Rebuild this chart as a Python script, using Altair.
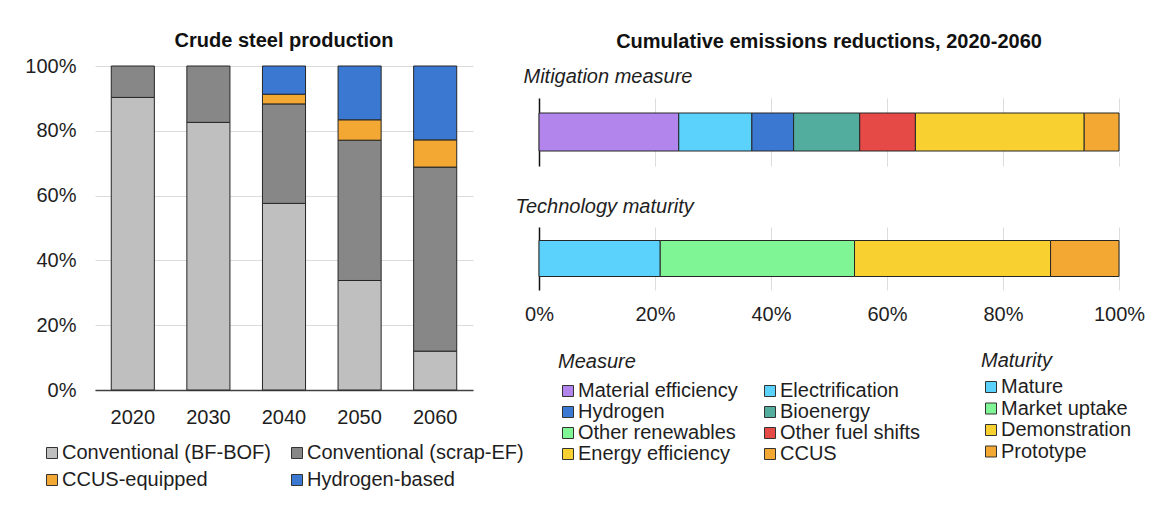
import altair as alt
import pandas as pd

# ---------------- data ----------------
years = ["2020", "2030", "2040", "2050", "2060"]
routes = ["Conventional (BF-BOF)", "Conventional (scrap-EF)", "CCUS-equipped", "Hydrogen-based"]
bf_bof = [90.3, 82.6, 57.6, 33.8, 12.0]
scrap_ef = [9.7, 17.4, 30.7, 43.3, 56.8]
ccus_equipped = [0.0, 0.0, 3.0, 6.3, 8.4]
hydrogen_based = [0.0, 0.0, 8.7, 16.6, 22.8]
route_colors = {"Conventional (BF-BOF)": "#BFBFBF", "Conventional (scrap-EF)": "#878787",
                "CCUS-equipped": "#F2A833", "Hydrogen-based": "#3A78D2"}
# legend fills column by column: this order shows BF-BOF | scrap-EF on row 1
route_legend_order = ["Conventional (BF-BOF)", "CCUS-equipped",
                      "Conventional (scrap-EF)", "Hydrogen-based"]

measures = ["Material efficiency", "Electrification", "Hydrogen", "Bioenergy",
            "Other renewables", "Other fuel shifts", "Energy efficiency", "CCUS"]
measure_values = [24.1, 12.6, 7.2, 11.4, 0.0, 9.6, 29.1, 6.0]
measure_colors = {"Material efficiency": "#B185EC", "Electrification": "#5BD2FC",
                  "Hydrogen": "#3A78D2", "Bioenergy": "#52AD9F",
                  "Other renewables": "#80F596", "Other fuel shifts": "#E64A47",
                  "Energy efficiency": "#F8D130", "CCUS": "#F2A833"}
measure_legend_order = ["Material efficiency", "Hydrogen", "Other renewables", "Energy efficiency",
                        "Electrification", "Bioenergy", "Other fuel shifts", "CCUS"]

maturities = ["Mature", "Market uptake", "Demonstration", "Prototype"]
maturity_values = [20.9, 33.5, 33.8, 11.8]
maturity_colors = ["#5BD2FC", "#80F596", "#F8D130", "#F2A833"]

pct_ticks = [0, 20, 40, 60, 80, 100]

# ---------------- tables ----------------
series = [bf_bof, scrap_ef, ccus_equipped, hydrogen_based]
steel_rows = []
for ri, (route, vals) in enumerate(zip(routes, series)):
    for y, v in zip(years, vals):
        steel_rows.append({"year": y, "route": route, "share": v, "idx": ri})
steel_df = pd.DataFrame(steel_rows)

mit_df = pd.DataFrame({"measure": measures, "value": measure_values,
                       "idx": list(range(len(measures))), "panel": "m"})
mat_df = pd.DataFrame({"maturity": maturities, "value": maturity_values,
                       "idx": list(range(len(maturities))), "panel": "t"})

FONT = "Liberation Sans"
TXT = "#1e1e1e"
GRID = "#DCDCDC"
EDGE = "#262626"

legend_common = dict(symbolType="square", symbolSize=121,
                     symbolStrokeColor="#333333", symbolStrokeWidth=1,
                     labelFontSize=20, labelOffset=0, labelColor=TXT,
                     labelFont=FONT, labelLimit=400,
                     titleFontStyle="italic", titleFontWeight="normal",
                     titleFontSize=20, titleFont=FONT, titleColor=TXT)

# ---------------- left panel ----------------
steel = alt.Chart(steel_df).transform_filter("datum.share > 0").mark_bar(
    stroke=EDGE, strokeWidth=1
).encode(
    x=alt.X("year:N", sort=years,
            scale=alt.Scale(paddingInner=0.43, paddingOuter=0.215),
            axis=alt.Axis(title=None, labelAngle=0, ticks=False, grid=False,
                          domainColor="#404040", domainWidth=1.5, labelPadding=17)),
    y=alt.Y("share:Q", stack="zero", scale=alt.Scale(domain=[0, 100]),
            axis=alt.Axis(title=None, values=pct_ticks, labelExpr="datum.value + '%'",
                          labelFlush=False, domain=False, ticks=False, labelPadding=19,
                          gridColor=GRID)),
    color=alt.Color("route:N",
                    scale=alt.Scale(domain=route_legend_order,
                                    range=[route_colors[r] for r in route_legend_order]),
                    legend=alt.Legend(title=None, orient="none", legendX=-53, legendY=377,
                                      columns=2, columnPadding=16, rowPadding=7,
                                      **legend_common)),
    order=alt.Order("idx:Q", sort="ascending"),
).properties(
    width=378, height=324,
    title=alt.Title("Crude steel production", fontSize=20, fontWeight="bold",
                    anchor="middle", frame="group", offset=5, color="#111111"),
)

# ---------------- right panel ----------------
spacer = alt.Chart(pd.DataFrame({"v": []})).mark_point(opacity=0).properties(
    width=580, height=1,
    title=alt.Title("Cumulative emissions reductions, 2020-2060", fontSize=20,
                    fontWeight="bold", anchor="middle", frame="group", offset=14,
                    color="#111111"),
)

mit = alt.Chart(mit_df).transform_filter("datum.value > 0").mark_bar(
    size=38, stroke=EDGE, strokeWidth=1
).encode(
    x=alt.X("value:Q", stack="zero", scale=alt.Scale(domain=[0, 100]),
            axis=alt.Axis(title=None, values=pct_ticks, labels=False, ticks=False,
                          domain=False, gridColor=GRID)),
    y=alt.Y("panel:N", axis=alt.Axis(title=None, labels=False, ticks=False, grid=False,
                                     domainColor="#111111", domainWidth=1.5)),
    fill=alt.Fill("measure:N",
                  scale=alt.Scale(domain=measure_legend_order,
                                  range=[measure_colors[m] for m in measure_legend_order]),
                  legend=alt.Legend(title="Measure", orient="none", legendX=463, legendY=286,
                                    columns=2, columnPadding=22, rowPadding=1,
                                    titlePadding=9, **legend_common)),
    order=alt.Order("idx:Q", sort="ascending"),
).properties(
    width=580, height=68,
    title=alt.Title("Mitigation measure", fontSize=20, fontWeight="normal",
                    fontStyle="italic", anchor="start", dx=-15, offset=11, color=TXT),
)

tech = alt.Chart(mat_df).mark_bar(size=36, stroke=EDGE, strokeWidth=1).encode(
    x=alt.X("value:Q", stack="zero", scale=alt.Scale(domain=[0, 100]),
            axis=alt.Axis(title=None, values=pct_ticks, labelExpr="datum.value + '%'",
                          labelFlush=False, ticks=False, domain=False, gridColor=GRID,
                          labelPadding=14)),
    y=alt.Y("panel:N", axis=alt.Axis(title=None, labels=False, ticks=False, grid=False,
                                     domainColor="#111111", domainWidth=1.5)),
    color=alt.Color("maturity:N", scale=alt.Scale(domain=maturities, range=maturity_colors),
                    legend=alt.Legend(title="Maturity", orient="none", legendX=442, legendY=285,
                                      columns=1, rowPadding=1.5, titlePadding=6,
                                      **legend_common)),
    order=alt.Order("idx:Q", sort="ascending"),
).properties(
    width=580, height=63,
    title=alt.Title("Technology maturity", fontSize=20, fontWeight="normal",
                    fontStyle="italic", anchor="start", dx=-9, offset=10, color=TXT),
)

inner = alt.vconcat(mit, tech, spacing=31)
right = alt.vconcat(spacer, inner, spacing=0)

chart = alt.hconcat(steel, right, spacing=66, bounds="flush").resolve_scale(
    color="independent"
).properties(
    padding={"left": 16, "top": 23, "right": 5, "bottom": 5}
).configure(
    font=FONT,
).configure_view(
    stroke=None
).configure_axis(
    labelFont=FONT, labelFontSize=20, labelColor=TXT
).configure_title(
    font=FONT
)

chart.save("out.html", embed_options={"renderer": "svg", "actions": False})
